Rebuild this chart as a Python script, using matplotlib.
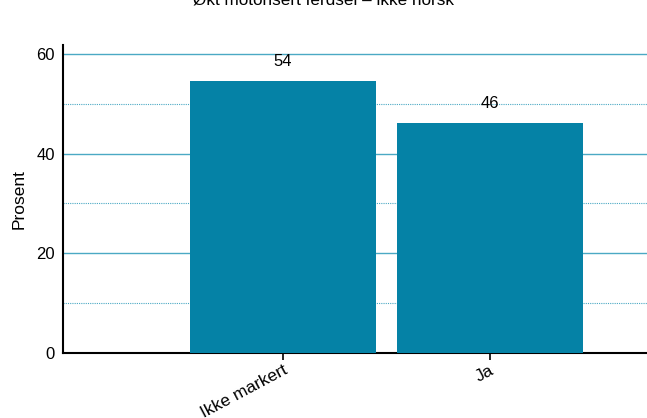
import numpy as np
import matplotlib.pyplot as plt
from matplotlib.ticker import MultipleLocator

plt.rcParams['font.family'] = ['Liberation Sans', 'DejaVu Sans']

categories = ['Ikke markert', 'Ja']
values = [54.6, 46.2]
value_labels = ['54', '46']
title = 'Økt motorisert ferdsel – ikke norsk'

fig = plt.figure(figsize=(6.47, 4.18), dpi=100)
ax = fig.add_axes([63/647, 1 - 353/418, 584/647, 308/418])

x = np.arange(len(categories))
bars = ax.bar(x, values, width=0.9, color='#0582A6', zorder=3)
for xi, v, lab in zip(x, values, value_labels):
    ax.annotate(lab, (xi, v), xytext=(0, 14), textcoords='offset points',
                ha='center', va='center', fontsize=12, zorder=4)

ax.set_xlim(-1.063, 1.76)
ax.set_ylim(0, 61.8)
ax.yaxis.set_major_locator(MultipleLocator(20))
ax.yaxis.set_minor_locator(MultipleLocator(10))
ax.grid(axis='y', which='major', color='#4BA9C4', linewidth=1.0, zorder=0)
ax.grid(axis='y', which='minor', color='#4BA9C4', linewidth=0.8, linestyle=(0, (1, 1)), zorder=0)
ax.tick_params(axis='y', which='minor', length=0)
ax.tick_params(axis='y', which='major', length=0, labelsize=12, pad=6)
ax.tick_params(axis='x', length=5, width=1.2, labelsize=12.5, pad=2)

ax.set_xticks(x)
ax.set_xticklabels(categories, rotation=28, ha='right', rotation_mode='anchor')

for s in ['top', 'right']:
    ax.spines[s].set_visible(False)
for s in ['left', 'bottom']:
    ax.spines[s].set_linewidth(1.5)

ax.set_ylabel('Prosent', fontsize=12.5, labelpad=7)
fig.text(0.5, 1.0, title, ha='center', va='center', fontsize=12.3)

fig.savefig('out.png', dpi=100)
